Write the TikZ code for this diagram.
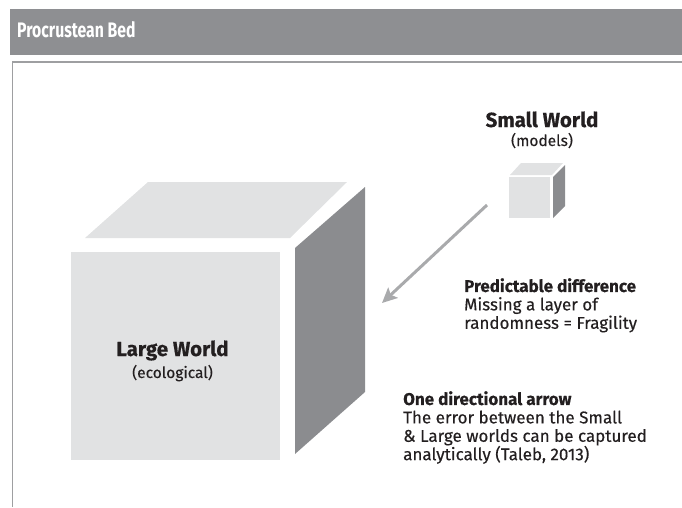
\documentclass[tikz,border=0pt]{standalone}
\usepackage{fontspec}
\setmainfont{Fira Sans}[FakeBold=0.35]
\newfontfamily\titlefont{Fira Sans}[FakeStretch=0.75]
\usetikzlibrary{arrows.meta}

\definecolor{barfill}{HTML}{8E8F92}
\definecolor{framegray}{HTML}{9E9FA1}
\definecolor{facelight}{HTML}{E1E2E3}
\definecolor{facedark}{HTML}{8B8C8F}
\definecolor{arrowgray}{HTML}{A9AAAC}
\definecolor{ink}{HTML}{231F20}

\begin{document}
\begin{tikzpicture}[x=1pt,y=-1pt,
  heading/.style={font=\fontsize{20.5}{24}\selectfont\bfseries, text=ink, inner sep=0},
  sublabel/.style={font=\fontsize{15.5}{18}\selectfont, text=ink, inner sep=0},
  note/.style={font=\fontsize{17}{18.4}\selectfont, text=ink, inner sep=0, align=left, anchor=north west},
  lightface/.style={fill=facelight, draw=none},
  darkface/.style={fill=facedark, draw=none},
  flow/.style={draw=arrowgray, line width=3pt, -{Stealth[length=15pt, width=14pt, inset=3pt]}}
]
\useasboundingbox (0,0) rectangle (682,507);

% title bar
\fill[barfill] (10,9) rectangle (682,55);
\node[font=\titlefont\fontsize{21}{24}\selectfont\bfseries, text=white, inner sep=0, anchor=base west] (title) at (17,37) {Procrustean Bed};

% panel frame
\draw[framegray, line width=1.6pt] (682,62) -- (12.5,62) -- (12.5,507);

% large cube, faces drawn apart
\fill[lightface] (85,238) -- (290,238) -- (347,182) -- (148,182) -- cycle;
\fill[darkface] (295,248) -- (365,187) -- (365,392) -- (295,454) -- cycle;
\node[lightface, anchor=north west, minimum width=209pt, minimum height=208pt, inner sep=0] (large) at (71,252) {};

% small cube
\fill[lightface] (510,175) -- (552,175) -- (563,163) -- (521,163) -- cycle;
\fill[darkface] (553,177) -- (565,165) -- (565,206) -- (553,218) -- cycle;
\node[lightface, anchor=north west, minimum width=41pt, minimum height=41pt, inner sep=0] (small) at (509,177) {};

% labels of the two worlds
\node[heading, anchor=base] (smallname) at (542,127) {Small World};
\node[sublabel, anchor=base] (smallsub) at (542,146) {(models)};
\node[heading, anchor=base] (largename) at (172.5,356) {Large World};
\node[sublabel, anchor=base] (largesub) at (172.5,378) {(ecological)};

% arrow from the model world to the ecological world
\coordinate (tail) at (487,205);
\coordinate (tip) at (382,303);
\draw[flow] (tail) -- (tip);

% notes
\node[note] (diff) at (464,278) {\textbf{Predictable difference}\\Missing a layer of\\randomness = Fragility};
\node[note] (oneway) at (403,391) {\textbf{One directional arrow}\\The error between the Small\\\& Large worlds can be captured\\analytically (Taleb, 2013)};
\end{tikzpicture}
\end{document}
